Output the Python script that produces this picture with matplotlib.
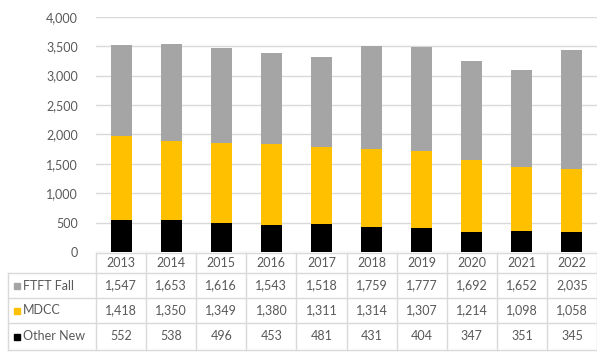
import matplotlib
matplotlib.use("Agg")
import matplotlib.pyplot as plt
import matplotlib.transforms as mtrans
import numpy as np

years = ["2013", "2014", "2015", "2016", "2017", "2018", "2019", "2020", "2021", "2022"]
other_new = [552, 538, 496, 453, 481, 431, 404, 347, 351, 345]
mdcc = [1418, 1350, 1349, 1380, 1311, 1314, 1307, 1214, 1098, 1058]
ftft_fall = [1547, 1653, 1616, 1543, 1518, 1759, 1777, 1692, 1652, 2035]
series_names = ["FTFT Fall", "MDCC", "Other New"]
yticks = [0, 500, 1000, 1500, 2000, 2500, 3000, 3500, 4000]

plt.rcParams['font.family'] = ['Lato', 'DejaVu Sans']
W, H = 597, 359
fig = plt.figure(figsize=(W / 100, H / 100), dpi=100)

ax_left, ax_right = 96, 597
y0_px, ytop_px = 252, 16.7
ax = fig.add_axes([ax_left / W, 1 - y0_px / H, (ax_right - ax_left) / W, (y0_px - ytop_px) / H])

text_col = "#595959"
grid_col = "#d9d9d9"
c_gray, c_yel, c_blk = "#a5a5a5", "#ffc000", "#000000"

x = np.arange(len(years))
bw = 0.42
ax.bar(x, other_new, bw, color=c_blk, zorder=3)
ax.bar(x, mdcc, bw, bottom=other_new, color=c_yel, zorder=3)
bottom2 = np.array(other_new) + np.array(mdcc)
ax.bar(x, ftft_fall, bw, bottom=bottom2, color=c_gray, zorder=3)

fs = 9.0
ax.set_xlim(-0.5, len(years) - 0.5)
ax.set_ylim(0, 4000)
ax.set_yticks(yticks)
ax.set_yticklabels([f"{v:,}" for v in yticks], color=text_col, fontsize=fs)
ax.tick_params(axis='y', length=0, pad=13)
ax.set_xticks([])
ax.yaxis.grid(True, color=grid_col, linewidth=1.0)
ax.set_axisbelow(True)
for s in ax.spines.values():
    s.set_visible(False)

# data table
tr = mtrans.blended_transform_factory(ax.transData, fig.transFigure)
def fy(p):
    return 1 - p / H

row_edges = [253, 273, 298, 323, 350]
left_px = 8
xl_data = ax.transData.inverted().transform((left_px, 0))[0]
fig.add_artist(plt.Line2D([-0.5, len(years) - 0.5], [fy(row_edges[0])] * 2, transform=tr, color=grid_col, lw=1))
for p in row_edges[1:]:
    fig.add_artist(plt.Line2D([xl_data, len(years) - 0.5], [fy(p)] * 2, transform=tr, color=grid_col, lw=1))
for i in range(len(years) + 1):
    fig.add_artist(plt.Line2D([i - 0.5, i - 0.5], [fy(row_edges[0]), fy(row_edges[-1])], transform=tr, color=grid_col, lw=1))
fig.add_artist(plt.Line2D([xl_data, xl_data], [fy(row_edges[1]), fy(row_edges[-1])], transform=tr, color=grid_col, lw=1))

def mid(a, b):
    return fy((a + b) / 2)

for i, yr in enumerate(years):
    fig.text(i, mid(row_edges[0], row_edges[1]), yr, transform=tr, ha='center', va='center', color=text_col, fontsize=fs)

rows = [ftft_fall, mdcc, other_new]
colors = [c_gray, c_yel, c_blk]
for r, (name, vals, col) in enumerate(zip(series_names, rows, colors)):
    ym = mid(row_edges[r + 1], row_edges[r + 2])
    for i, v in enumerate(vals):
        fig.text(i, ym, f"{v:,}", transform=tr, ha='center', va='center', color=text_col, fontsize=fs)
    fig.patches.append(plt.Rectangle((14 / W, ym - 3 / H), 6 / W, 6 / H, transform=fig.transFigure, color=col, figure=fig))
    fig.text(23 / W, ym, name, ha='left', va='center', color=text_col, fontsize=fs)

fig.savefig("out.png", dpi=100)
